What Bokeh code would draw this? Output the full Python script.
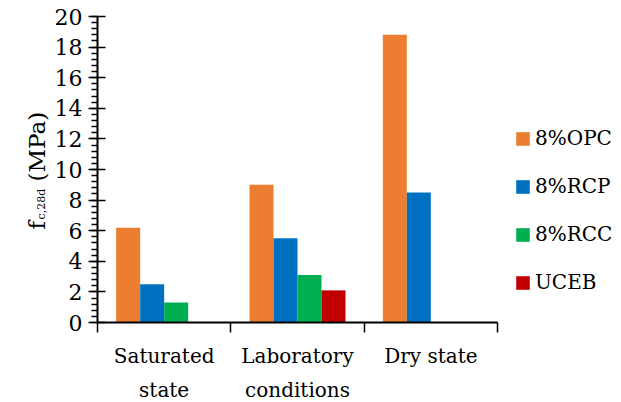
from math import pi

from bokeh.embed import file_html
from bokeh.models import (ColumnDataSource, FixedTicker, Label, Legend,
                          LegendItem, Range1d)
from bokeh.plotting import figure
from bokeh.resources import INLINE

# 28-day compressive strength of the blocks, by curing/test condition
conditions = ["Saturated\nstate", "Laboratory\nconditions", "Dry state"]
series_names = ["8%OPC", "8%RCP", "8%RCC", "UCEB"]
opc = [6.2, 9.0, 18.8]
rcp = [2.5, 5.5, 8.5]
rcc = [1.3, 3.1, None]
uceb = [None, 2.1, None]
series_values = [opc, rcp, rcc, uceb]
colors = ["#ED7D31", "#0070C0", "#00B050", "#C00000"]
y_major = [0, 2, 4, 6, 8, 10, 12, 14, 16, 18, 20]

FONT = "DejaVu Serif"
BAR_W = 0.18

# canvas geometry (pixels): the frame fills the canvas and the axes sit at
# fixed positions inside it, so texts outside the bars' box are never clipped
W, H = 621, 402
AX_L, AX_R, AX_T, AX_B = 97, 497, 16, 322
n_cat = len(conditions)
y_lo, y_hi = y_major[0], y_major[-1]
x_per_px = n_cat / (AX_R - AX_L)
y_per_px = (y_hi - y_lo) / (AX_B - AX_T)
x_range = Range1d(-AX_L * x_per_px, n_cat + (W - AX_R) * x_per_px)
y_range = Range1d(y_lo - (H - AX_B) * y_per_px, y_hi + AX_T * y_per_px)


def px_x(px):
    return (px - AX_L) * x_per_px


def px_y(py):
    return y_lo + (AX_B - py) * y_per_px


p = figure(width=W, height=H, x_range=x_range, y_range=y_range,
           output_backend="svg", toolbar_location=None,
           min_border=0, title=None)
p.xgrid.visible = False
p.ygrid.visible = False
p.outline_line_color = None
p.background_fill_color = "white"
p.border_fill_color = "white"

# grouped bars: each series offset inside its condition slot
items = []
n = len(series_names)
for j, (name, vals, col) in enumerate(zip(series_names, series_values, colors)):
    xs, tops = [], []
    for i, v in enumerate(vals):
        if v is None:
            continue
        xs.append(i + 0.5 + (j - (n - 1) / 2) * BAR_W)
        tops.append(v)
    src = ColumnDataSource(dict(x=xs, top=tops))
    r = p.vbar(x="x", top="top", bottom=0, width=BAR_W, source=src,
               fill_color=col, line_color=None)
    items.append(LegendItem(label=name, renderers=[r]))

# y axis: majors every 2, four minors between
minor_step = (y_major[1] - y_major[0]) / 5
y_minor = [y_lo + k * minor_step
           for k in range(int(round((y_hi - y_lo) / minor_step)) + 1)]
ya = p.yaxis[0]
ya.fixed_location = 0
ya.bounds = (y_lo, y_hi)
ya.ticker = FixedTicker(ticks=y_major, minor_ticks=y_minor)
ya.axis_line_color = "black"
ya.axis_line_width = 2
ya.major_tick_in = 8
ya.major_tick_out = 9
ya.major_tick_line_width = 1.5
ya.major_tick_line_color = "black"
ya.minor_tick_in = 0
ya.minor_tick_out = 6
ya.minor_tick_line_width = 1.5
ya.minor_tick_line_color = "black"
ya.major_label_standoff = 6
ya.major_label_text_font = FONT
ya.major_label_text_font_size = "22px"
ya.major_label_text_color = "black"

# x axis: labels centred on each condition, tick marks on the slot edges
xa = p.xaxis[0]
xa.fixed_location = 0
xa.bounds = (0, n_cat)
xa.ticker = FixedTicker(ticks=[i + 0.5 for i in range(n_cat)],
                        minor_ticks=list(range(n_cat + 1)))
xa.major_label_overrides = {i + 0.5: c for i, c in enumerate(conditions)}
xa.axis_line_color = "black"
xa.axis_line_width = 2
xa.major_tick_in = 0
xa.major_tick_out = 0
xa.minor_tick_in = 0
xa.minor_tick_out = 10
xa.minor_tick_line_width = 1.5
xa.minor_tick_line_color = "black"
xa.major_label_standoff = 11
xa.major_label_text_font = FONT
xa.major_label_text_font_size = "20px"
xa.major_label_text_line_height = 1.45
xa.major_label_text_color = "black"

# y-axis title with subscript, as rotated labels
title_parts = [("f", 36, 229, "23px"), ("c,28d", 41, 219, "11px"),
               ("(MPa)", 36, 181, "23px")]
for txt, bx, by, size in title_parts:
    p.add_layout(Label(x=px_x(bx), y=px_y(by), text=txt, angle=pi / 2,
                       text_font=FONT, text_font_size=size,
                       text_align="left", text_baseline="alphabetic",
                       text_color="black"))

legend = Legend(items=items, location=(514, H - 294),
                glyph_width=17, glyph_height=17,
                label_height=24, spacing=24, label_standoff=4,
                padding=0, margin=0,
                border_line_color=None, background_fill_alpha=0,
                label_text_font=FONT, label_text_font_size="20px",
                label_text_color="black")
p.add_layout(legend)

open("out.html", "w").write(file_html(p, INLINE))
